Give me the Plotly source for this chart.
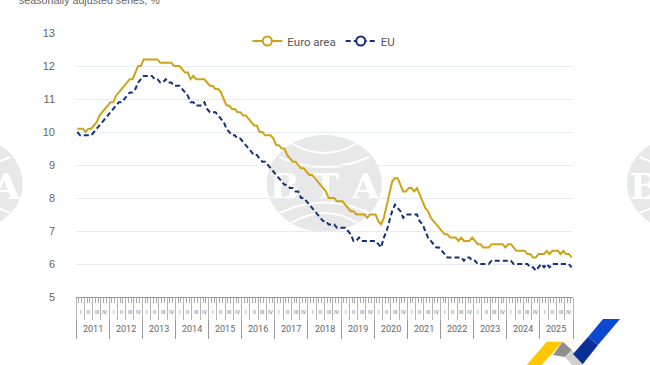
import plotly.graph_objects as go

W, H = 650, 365
L, R, T, B = 76.3, 573.0, 33.0, 297.0

years = [str(y) for y in range(2011, 2026)]
quarters = ["I", "II", "III", "IV"]
y_ticks = [5, 6, 7, 8, 9, 10, 11, 12, 13]

euro_area = [
    10.1,10.1,10.1,10.0,10.1,10.1,10.2,10.3,10.5,10.6,10.7,10.8,
    10.9,10.9,11.1,11.2,11.3,11.4,11.5,11.6,11.6,11.8,12.0,12.0,
    12.2,12.2,12.2,12.2,12.2,12.2,12.1,12.1,12.1,12.1,12.1,12.0,
    12.0,12.0,11.9,11.8,11.8,11.6,11.7,11.6,11.6,11.6,11.6,11.5,
    11.4,11.4,11.3,11.3,11.2,11.0,10.8,10.8,10.7,10.7,10.6,10.6,
    10.5,10.5,10.4,10.3,10.2,10.2,10.0,10.0,9.9,9.9,9.9,9.8,
    9.6,9.6,9.5,9.5,9.3,9.2,9.1,9.1,9.0,8.9,8.9,8.8,
    8.7,8.7,8.6,8.5,8.4,8.3,8.2,8.0,8.0,8.0,7.9,7.9,
    7.9,7.8,7.7,7.6,7.6,7.5,7.5,7.5,7.5,7.4,7.5,7.5,
    7.5,7.3,7.2,7.4,7.8,8.1,8.5,8.6,8.6,8.4,8.2,8.2,
    8.3,8.3,8.2,8.3,8.1,7.9,7.7,7.6,7.4,7.3,7.2,7.1,
    7.0,6.9,6.9,6.8,6.8,6.8,6.7,6.8,6.7,6.7,6.7,6.8,
    6.7,6.6,6.6,6.5,6.5,6.5,6.6,6.6,6.6,6.6,6.6,6.5,
    6.6,6.6,6.5,6.4,6.4,6.4,6.4,6.3,6.3,6.2,6.2,6.3,
    6.3,6.3,6.4,6.3,6.4,6.4,6.4,6.3,6.4,6.3,6.3,6.2,
]
eu = [
    10.0,9.9,9.9,9.9,9.9,9.9,10.0,10.1,10.2,10.3,10.4,10.5,
    10.6,10.7,10.8,10.9,10.9,11.0,11.1,11.2,11.2,11.3,11.5,11.6,
    11.7,11.7,11.7,11.7,11.6,11.6,11.5,11.5,11.6,11.5,11.5,11.4,
    11.4,11.4,11.3,11.2,11.1,10.9,10.9,10.8,10.8,10.8,10.9,10.7,
    10.6,10.6,10.6,10.5,10.4,10.3,10.1,10.0,9.9,9.9,9.8,9.8,
    9.7,9.6,9.5,9.4,9.3,9.3,9.2,9.1,9.1,9.0,8.9,8.8,
    8.7,8.6,8.5,8.4,8.4,8.3,8.3,8.2,8.2,8.0,8.0,7.9,
    7.8,7.7,7.6,7.5,7.4,7.3,7.3,7.2,7.2,7.2,7.1,7.1,
    7.1,7.1,7.0,6.9,6.7,6.7,6.8,6.7,6.7,6.7,6.7,6.7,
    6.7,6.6,6.5,6.8,7.0,7.3,7.6,7.8,7.7,7.6,7.4,7.5,
    7.5,7.5,7.5,7.5,7.3,7.2,7.0,6.8,6.7,6.6,6.5,6.5,
    6.4,6.3,6.2,6.2,6.2,6.2,6.2,6.2,6.1,6.2,6.2,6.1,
    6.1,6.0,6.0,6.0,6.0,6.0,6.1,6.1,6.1,6.1,6.1,6.1,
    6.1,6.1,6.0,6.0,6.0,6.0,6.0,6.0,5.9,5.9,5.8,5.9,
    6.0,5.9,6.0,5.9,6.0,6.0,6.0,6.0,6.0,6.0,6.0,5.9,
]

GOLD = "#cda418"
NAVY = "#15307c"
TXT = "#666666"
AXIS = "#9a9a9a"
SANS = "Liberation Sans"
ROB = "Roboto"
months = [i + 0.5 for i in range(len(euro_area))]


def px(x):
    return (x - L) / (R - L)


def py(y):
    return (B - y) / (B - T)


def path(pts):
    return "M" + " L".join(f"{px(x):.4f},{py(y):.4f}" for x, y in pts) + " Z"


def poly(pts, color):
    return dict(type="path", xref="paper", yref="paper", path=path(pts),
                fillcolor=color, line=dict(width=0), layer="above")


def logo(cx, cy=183.5, rx=57.5, ry=48.5):
    grey, out = "#e8e8e8", []
    out.append(dict(type="circle", xref="paper", yref="paper",
                    x0=px(cx - rx), x1=px(cx + rx), y0=py(cy + ry), y1=py(cy - ry),
                    fillcolor=grey, line=dict(width=0), layer="below"))
    for dx, y_end, y_ctrl in [(33, 143, 163), (45, 157, 177), (45, 213, 192), (33, 223, 203)]:
        d = (f"M{px(cx - dx):.4f},{py(y_end):.4f} Q{px(cx):.4f},{py(y_ctrl):.4f} "
             f"{px(cx + dx):.4f},{py(y_end):.4f}")
        out.append(dict(type="path", xref="paper", yref="paper", path=d,
                        line=dict(color="white", width=2), layer="below"))
    out.append(dict(type="rect", xref="paper", yref="paper",
                    x0=px(cx - rx), x1=px(cx + rx), y0=py(cy + 12), y1=py(cy - 12),
                    fillcolor="rgba(0,0,0,0)", line=dict(width=0), layer="below",
                    label=dict(text="<b>B T A</b>", textposition="middle center",
                               font=dict(family="DejaVu Serif", size=36, color="white"))))
    return out


fig = go.Figure()
fig.add_trace(go.Scatter(x=months, y=euro_area, mode="lines", showlegend=False, hoverinfo="skip",
                         line=dict(color=GOLD, width=2)))
fig.add_trace(go.Scatter(x=months, y=eu, mode="lines", showlegend=False, hoverinfo="skip",
                         line=dict(color=NAVY, width=2, dash="5px,3px")))
for name, col, dash in [("Euro area", GOLD, "solid"), ("EU", NAVY, "5px,3px")]:
    fig.add_trace(go.Scatter(x=[None], y=[None], name=name, mode="lines+markers",
                             line=dict(color=col, width=2, dash=dash),
                             marker=dict(symbol="circle", size=9, color="white",
                                         line=dict(color=col, width=2))))
fig.add_trace(go.Scatter(x=[0, 180], y=[None, None], xaxis="x2", showlegend=False, hoverinfo="skip"))

ann = [dict(xref="paper", yref="paper", x=px(17), y=py(0), xanchor="left", yanchor="middle",
            text="seasonally adjusted series, %", showarrow=False,
            font=dict(family=SANS, size=10.7, color=TXT))]
for yi, yr in enumerate(years):
    ann.append(dict(x=12 * yi + 6, xref="x", yref="paper", y=py(329), yanchor="middle", text=yr,
                    showarrow=False, font=dict(family=ROB, size=9, color=TXT)))
    for qi, q in enumerate(quarters):
        ann.append(dict(x=12 * yi + 3 * qi + 1.5, xref="x", yref="paper", y=py(312), yanchor="middle",
                        text=q, showarrow=False, font=dict(family=SANS, size=5, color=TXT)))

shapes = logo(324.5) + logo(-34.5) + logo(684.5)
shapes += [
    poly([(526.7, 365), (546.7, 341.7), (562.7, 341.7), (541.7, 365)], "#fdc800"),
    poly([(553, 355), (562.7, 341.7), (572, 350), (565, 357)], "#8f8f8f"),
    poly([(565, 357), (572, 350), (582.7, 365), (572, 365)], "#d0d0d0"),
    poly([(573, 354), (588, 337), (598, 345), (582.7, 364.3)], "#0a2f98"),
    poly([(588, 337), (603, 319), (620, 319), (598, 345)], "#0d49d0"),
]

fig.update_layout(
    width=W, height=H,
    margin=dict(l=L, r=W - R, t=T, b=H - B),
    paper_bgcolor="white", plot_bgcolor="rgba(0,0,0,0)",
    font=dict(family=SANS, color=TXT),
    showlegend=True,
    legend=dict(orientation="h", x=px(324), xanchor="center", y=py(41), yanchor="middle",
                bgcolor="rgba(0,0,0,0)", font=dict(family=ROB, size=11.5, color="#555555"),
                itemwidth=30, itemclick=False, itemdoubleclick=False),
    xaxis=dict(range=[0, 180], tickmode="array", tickvals=[12 * i for i in range(16)],
               ticktext=[""] * 16, ticks="outside", ticklen=41, tickwidth=1, tickcolor=AXIS,
               showgrid=False, zeroline=False, showline=True, linecolor=AXIS, linewidth=1,
               minor=dict(tickmode="linear", tick0=0, dtick=1, ticks="outside", ticklen=5,
                          tickcolor="#aaaaaa", tickwidth=1, showgrid=False)),
    xaxis2=dict(range=[0, 180], overlaying="x", side="bottom", anchor="y",
                tickmode="array", tickvals=[3 * i for i in range(61)],
                ticktext=[""] * 61, ticks="outside", ticklen=22, tickwidth=1, tickcolor="#b5b5b5",
                showgrid=False, zeroline=False, showline=False),
    yaxis=dict(range=[5, 13], tickmode="array", tickvals=y_ticks, ticks="", showline=False,
               gridcolor="#e6ebf6", gridwidth=1, zeroline=False, ticklabelstandoff=20,
               tickfont=dict(family=SANS, size=11, color=TXT)),
    annotations=ann, shapes=shapes,
)
fig.write_html("out.html", config={"displayModeBar": False},
               post_script="document.body.style.margin='0';document.body.style.overflow='hidden';")
